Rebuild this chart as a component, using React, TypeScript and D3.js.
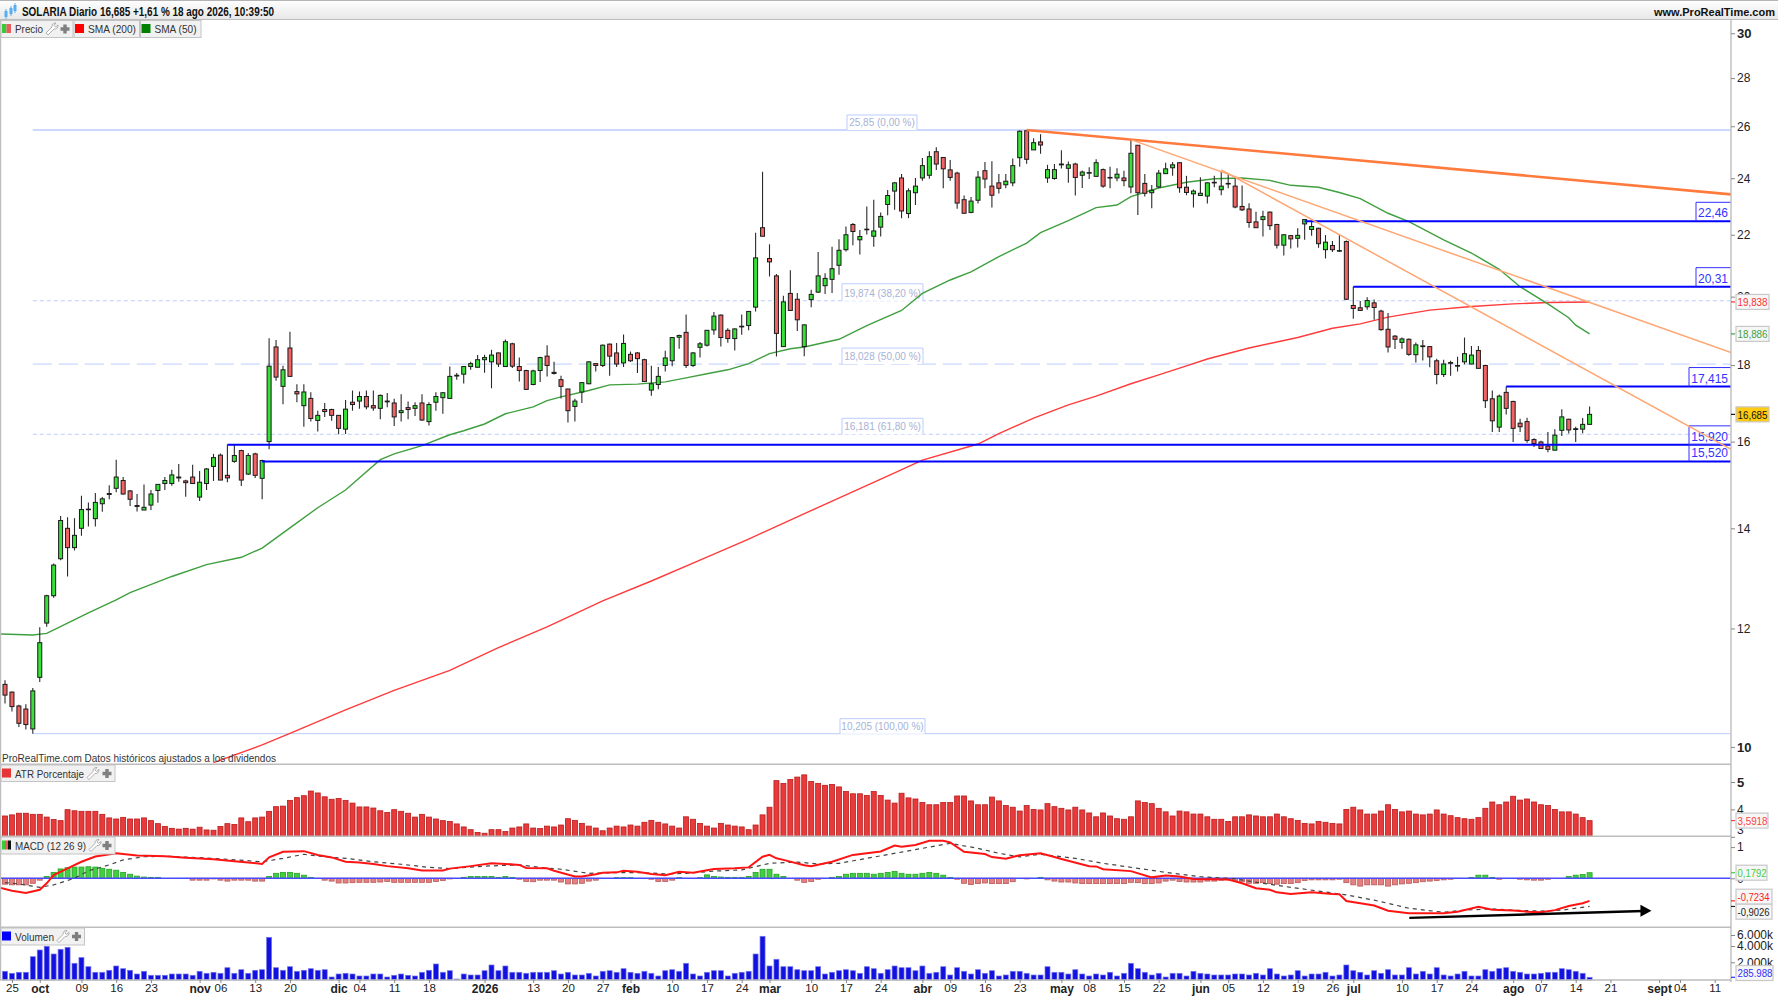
// App.tsx
import React, { useEffect, useRef } from 'react';
import * as d3 from 'd3';

// Daily candles, one row = 10 sessions
const opens = [
  11.01,10.88,10.65,10.60,10.28,11.13,12.10,12.62,13.36,14.00,
  13.59,14.00,14.41,14.21,14.54,14.75,14.89,15.07,14.83,14.50,
  14.40,14.51,14.84,15.00,15.00,15.13,15.06,15.15,14.69,15.00,
  15.40,15.67,15.19,15.52,15.78,15.22,15.70,15.12,16.00,18.51,
  17.42,18.48,17.28,16.91,17.10,16.53,16.81,16.81,16.66,16.31,
  17.00,17.03,17.15,16.91,16.84,17.01,16.98,16.73,16.86,16.84,
  16.98,16.50,17.00,17.12,17.10,17.70,17.75,17.96,17.94,18.15,
  18.09,18.34,17.96,18.60,17.96,17.85,17.47,17.85,18.25,17.80,
  17.60,17.35,16.89,17.27,17.49,18.04,17.99,18.59,18.34,18.06,
  18.30,18.34,18.15,17.32,17.47,17.99,18.12,18.79,18.93,17.99,
  18.50,18.56,19.00,19.44,18.99,18.75,19.09,19.13,19.68,22.24,
  21.21,20.65,18.52,20.10,19.92,18.52,19.91,20.14,20.34,20.54,
  20.99,21.50,22.35,21.83,22.17,21.95,22.26,23.05,23.53,24.01,
  22.73,23.47,24.01,24.11,25.00,24.78,24.31,24.19,23.22,22.77,
  23.20,24.28,23.71,23.83,23.76,23.83,24.77,25.82,25.07,25.38,
  24.01,23.99,24.50,24.37,24.53,24.11,24.19,24.07,24.32,24.01,
  24.01,24.01,23.68,25.25,23.81,23.47,23.68,24.17,24.39,24.58,
  23.67,23.43,23.37,23.35,23.83,23.58,23.79,23.71,22.98,22.89,
  22.44,22.52,22.78,22.35,21.65,21.97,21.88,22.37,22.18,22.22,
  21.50,21.64,21.45,21.77,19.73,19.66,19.69,19.81,19.56,19.02,
  18.82,18.64,18.73,18.29,18.52,18.52,18.12,17.74,18.05,17.97,
  18.09,18.03,18.41,17.99,17.09,16.36,17.26,17.02,16.46,16.50,
  16.05,15.99,15.89,15.79,16.28,16.56,16.30,16.31,16.43,
];
const closes = [
  10.83,10.64,10.37,10.35,10.90,11.74,12.62,13.23,14.17,13.59,
  13.85,14.41,14.42,14.57,14.65,14.77,15.15,14.76,14.64,14.48,
  14.46,14.76,14.98,15.07,15.20,15.15,15.02,15.00,15.03,15.34,
  15.61,15.08,15.13,15.66,15.08,15.66,15.19,15.54,17.97,17.67,
  17.87,17.69,17.22,17.27,16.58,16.66,16.76,16.66,16.33,16.82,
  16.94,17.15,16.88,16.85,17.18,17.03,16.62,16.78,16.81,16.91,
  16.54,16.94,17.15,17.25,17.69,17.72,17.96,18.04,18.15,18.21,
  18.28,18.03,18.66,17.97,17.85,17.34,17.84,18.21,17.99,17.77,
  17.42,16.78,17.03,17.52,18.09,17.99,18.56,18.25,18.03,18.61,
  18.12,18.18,17.55,17.49,17.69,18.20,18.78,18.84,17.99,18.34,
  18.60,18.99,19.41,18.78,18.75,19.03,19.11,19.55,21.23,21.95,
  21.10,18.90,19.84,19.58,19.30,19.15,20.07,20.65,20.57,20.88,
  21.48,22.00,22.11,21.94,22.19,22.13,22.63,23.37,23.83,22.82,
  23.54,23.71,24.47,24.81,24.53,24.35,24.03,23.10,22.74,23.17,
  24.04,23.97,23.38,23.63,23.89,24.47,25.80,24.71,25.35,25.26,
  24.32,24.32,24.53,24.50,24.03,24.23,24.21,24.58,23.71,24.03,
  24.15,23.91,24.94,23.47,23.45,23.56,24.19,24.35,24.50,23.65,
  23.48,23.53,23.45,23.83,23.85,23.71,23.81,22.96,22.86,22.42,
  22.24,22.62,22.31,21.65,22.00,21.86,21.98,22.52,22.28,21.70,
  21.75,21.50,21.47,19.92,19.64,19.58,19.88,19.67,19.01,18.51,
  18.73,18.74,18.30,18.57,18.54,18.23,17.74,18.03,18.07,17.99,
  18.32,18.28,17.91,17.04,16.52,17.16,16.84,16.33,16.37,16.03,
  15.95,15.83,15.81,16.16,16.62,16.29,16.32,16.43,16.685,
];
const highs = [
  11.08,10.89,10.67,10.68,10.95,12.02,12.64,13.26,14.27,14.24,
  14.22,14.72,14.57,14.78,14.69,14.96,15.56,15.15,14.85,14.76,
  14.98,14.85,14.99,15.15,15.32,15.46,15.09,15.44,15.29,15.36,
  15.70,15.71,15.92,15.92,15.80,15.72,15.73,15.56,18.76,18.71,
  17.98,18.95,17.48,17.48,17.26,16.78,16.98,16.83,16.67,17.06,
  17.31,17.28,17.31,17.31,17.20,17.24,17.09,17.21,17.02,17.00,
  17.21,17.00,17.26,17.26,17.96,17.78,17.97,18.09,18.28,18.29,
  18.43,18.35,18.72,18.63,18.21,17.87,17.87,18.23,18.56,18.09,
  17.71,17.35,17.09,17.54,18.11,18.06,18.58,18.61,18.62,18.87,
  18.38,18.37,18.18,17.98,17.95,18.40,18.79,18.86,19.46,18.37,
  18.65,19.00,19.53,19.46,19.05,19.05,19.46,19.56,22.07,24.24,
  21.68,20.71,20.03,20.83,20.11,19.16,20.21,21.42,20.73,21.60,
  21.85,22.28,22.40,22.16,22.98,23.22,22.77,23.57,23.86,24.16,
  23.63,24.01,24.76,25.02,25.17,24.80,24.68,24.24,23.37,23.32,
  24.27,24.61,24.64,24.16,24.16,24.74,25.83,25.85,25.52,25.68,
  24.50,24.53,25.06,24.63,24.58,24.29,24.41,24.71,24.36,24.43,
  24.37,24.28,25.48,25.25,24.16,23.75,24.31,24.58,24.61,24.61,
  24.09,23.59,24.04,23.85,24.09,24.24,24.19,24.04,23.73,23.09,
  22.79,22.83,22.80,22.38,22.02,21.99,22.22,22.50,22.50,22.24,
  21.99,21.79,21.99,21.81,20.31,19.87,19.98,19.91,19.60,19.50,
  18.85,18.78,18.75,18.64,18.71,18.54,18.18,18.15,18.12,18.23,
  18.78,18.54,18.54,18.01,17.31,17.20,17.415,17.04,16.57,16.60,
  16.08,16.02,16.24,16.31,16.82,16.57,16.37,16.59,16.89,
];
const lows = [
  10.69,10.56,10.31,10.27,10.205,11.05,12.03,12.58,13.33,13.00,
  13.53,13.84,14.04,14.04,14.36,14.64,14.80,14.74,14.49,14.37,
  14.40,14.40,14.56,14.85,14.95,15.04,14.70,15.00,14.60,14.85,
  15.06,15.08,15.03,15.49,14.94,15.20,15.13,14.64,15.81,17.57,
  16.95,17.69,17.00,16.37,16.50,16.25,16.62,16.52,16.18,16.19,
  16.78,16.83,16.82,16.78,16.56,16.87,16.39,16.50,16.56,16.64,
  16.52,16.40,16.78,16.70,17.10,17.60,17.50,17.87,17.93,17.79,
  17.37,17.95,17.95,17.92,17.55,17.32,17.45,17.54,17.69,17.74,
  17.10,16.48,16.50,16.98,17.48,17.82,17.95,17.71,17.95,17.95,
  18.09,17.78,17.54,17.17,17.34,17.82,17.97,18.46,17.92,17.95,
  18.21,18.52,18.86,18.52,18.63,18.41,18.86,18.99,19.55,21.95,
  20.63,18.24,18.52,19.58,18.97,18.25,19.68,20.12,20.08,20.11,
  20.69,21.44,21.65,21.34,22.01,21.60,21.94,22.67,22.86,22.57,
  22.57,23.03,23.91,23.98,24.31,23.63,23.91,22.90,22.72,22.74,
  23.08,23.63,22.94,23.44,23.63,23.71,24.43,24.54,25.07,24.92,
  23.83,23.94,24.36,23.83,23.37,23.64,23.97,24.05,23.65,23.63,
  23.89,23.71,23.45,22.68,23.33,22.92,23.64,24.16,24.09,23.47,
  23.38,22.94,23.35,23.08,23.67,23.38,23.63,22.92,22.82,22.24,
  22.24,21.94,22.16,21.54,21.31,21.54,21.57,21.83,21.97,21.56,
  21.21,21.42,21.42,19.90,19.33,19.56,19.60,19.30,18.98,18.35,
  18.45,18.46,18.26,18.07,18.13,17.94,17.48,17.67,17.71,17.82,
  18.02,18.02,17.91,16.85,16.24,16.24,16.68,15.99,16.24,15.97,
  15.87,15.82,15.74,15.79,16.14,16.20,15.99,16.21,16.42,
];

const atrValues = [
  3.76,3.80,3.86,3.86,3.82,3.82,3.72,3.63,3.59,3.99,
  3.95,3.93,3.93,3.93,3.82,3.69,3.65,3.71,3.65,3.65,
  3.69,3.59,3.48,3.38,3.31,3.28,3.31,3.28,3.35,3.25,
  3.24,3.38,3.48,3.45,3.69,3.55,3.69,3.72,3.93,4.10,
  4.12,4.33,4.43,4.50,4.67,4.60,4.46,4.37,4.40,4.33,
  4.23,4.09,4.09,4.05,3.95,3.89,3.99,3.93,3.86,3.72,
  3.82,3.72,3.65,3.59,3.56,3.47,3.36,3.26,3.16,3.13,
  3.26,3.26,3.19,3.32,3.36,3.47,3.32,3.30,3.39,3.36,
  3.43,3.66,3.60,3.49,3.39,3.32,3.22,3.32,3.39,3.36,
  3.43,3.39,3.53,3.60,3.53,3.47,3.39,3.32,3.73,3.64,
  3.49,3.39,3.32,3.49,3.43,3.39,3.36,3.26,3.43,3.80,
  4.08,5.05,4.95,5.09,5.18,5.26,5.02,4.95,4.88,4.91,
  4.82,4.65,4.57,4.57,4.51,4.65,4.51,4.34,4.23,4.59,
  4.42,4.38,4.25,4.17,4.17,4.25,4.25,4.49,4.49,4.31,
  4.17,4.17,4.45,4.31,4.14,4.08,3.94,4.14,4.00,3.98,
  4.21,4.10,4.04,3.98,4.08,3.98,3.87,3.73,3.87,3.76,
  3.66,3.64,3.73,4.31,4.25,4.21,4.04,3.91,3.76,3.94,
  3.91,3.83,3.83,3.73,3.64,3.64,3.56,3.73,3.73,3.80,
  3.76,3.73,3.73,3.83,3.73,3.66,3.60,3.49,3.47,3.56,
  3.53,3.49,3.47,4.00,4.08,3.98,3.83,3.83,3.94,4.17,
  4.00,3.91,3.94,3.83,3.80,3.83,3.98,3.83,3.77,3.70,
  3.66,3.64,3.70,4.04,4.27,4.17,4.27,4.48,4.34,4.38,
  4.27,4.17,4.14,4.00,3.91,3.91,3.83,3.70,3.59,
];

const histValues = [
  -.19,-.21,-.21,-.21,-.16,-.06,.06,.19,.30,.34,
  .36,.36,.37,.36,.32,.29,.26,.19,.13,.07,
  .04,.03,.03,0,0,0,-.01,-.06,-.06,-.06,
  -.02,-.06,-.09,-.06,-.06,-.06,-.09,-.09,.06,.16,
  .19,.19,.16,.10,.03,-.01,-.06,-.09,-.15,-.15,
  -.14,-.13,-.13,-.13,-.12,-.10,-.13,-.13,-.13,-.13,
  -.13,-.13,-.10,-.07,-.02,0,.03,.06,.06,.06,
  .06,.03,.06,.03,-.03,-.10,-.11,-.06,-.06,-.06,
  -.12,-.18,-.18,-.16,-.09,-.06,0,0,.02,.02,
  .02,0,0,-.03,-.10,-.10,-.06,.02,0,0,
  .02,.11,.06,.04,.03,.03,.03,.06,.19,.29,
  .29,.13,.06,0,-.06,-.13,-.10,-.03,0,.03,
  .06,.13,.16,.16,.16,.13,.16,.19,.22,.16,
  .13,.13,.16,.19,.16,.10,.03,-.03,-.16,-.20,
  -.17,-.15,-.17,-.17,-.17,-.11,0,-.02,0,.03,
  -.05,-.09,-.12,-.12,-.15,-.17,-.17,-.17,-.17,-.17,
  -.17,-.17,-.13,-.14,-.17,-.17,-.15,-.09,-.06,-.10,
  -.12,-.12,-.12,-.09,-.09,-.06,-.05,-.07,-.11,-.16,
  -.16,-.14,-.17,-.19,-.17,-.17,-.14,-.07,-.05,-.05,
  -.05,-.05,-.03,-.14,-.21,-.25,-.21,-.21,-.21,-.25,
  -.21,-.18,-.16,-.14,-.11,-.09,-.07,-.05,-.03,-.01,
  0,.03,.10,.10,.03,-.03,0,0,-.03,-.05,
  -.06,-.06,-.03,0,0,.06,.10,.12,.1792,
];

// volume in thousands
const volumes = [
  972,743,858,858,2687,3509,3963,3018,3595,3840,
  1886,2576,1498,858,858,1086,1578,1269,1086,663,
  972,515,515,515,663,663,663,515,972,743,
  858,743,1383,743,1155,743,1086,1155,5580,1383,
  1086,1498,972,1086,1269,1086,1155,320,663,743,
  663,435,435,663,663,320,515,663,515,435,
  858,1086,1806,858,1040,106,663,549,549,1040,
  1692,1040,1578,858,858,743,858,858,858,1040,
  663,858,549,549,743,435,972,1040,858,1269,
  858,743,972,743,435,1040,1155,972,1886,663,
  435,858,1040,1040,435,743,858,972,3018,5763,
  1578,2368,1498,1498,1155,1040,1040,1498,663,858,
  1040,1155,1040,743,1498,1269,743,1155,1578,1383,
  1383,1040,1578,743,858,1498,549,1383,972,663,
  1155,743,1040,435,549,972,972,743,549,549,
  1498,858,858,663,1155,663,435,663,549,858,
  435,743,1886,1269,858,549,743,320,743,743,
  435,972,743,663,549,549,549,663,663,549,
  743,549,1269,663,435,549,1040,435,663,663,
  858,435,549,1692,1040,858,549,1040,743,1155,
  549,549,1383,663,972,663,1383,549,435,663,
  972,435,435,1155,972,1269,1383,972,858,663,
  663,743,858,858,1269,1155,972,743,286,
];

// moving averages, read at these sessions
const sma50Bars = [-1,4,6,9,12,16,18,24,29,34,37,41,45,49,54,56,60,64,66,69,72,76,78,80,84,87,91,95,98,101,104,107,110,113,115,120,124,129,132,136,139,143,147,149,153,157,160,162,166,170,174,178,182,185,189,192,195,199,202,207,211,215,218,222,225,226,228];
const sma50Vals = [11.90,11.88,11.91,12.10,12.29,12.54,12.68,13.00,13.24,13.39,13.58,14.01,14.45,14.85,15.56,15.70,15.90,16.17,16.27,16.44,16.70,16.88,17.04,17.14,17.31,17.46,17.48,17.54,17.65,17.76,17.87,18.04,18.32,18.46,18.51,18.73,19.13,19.58,20.10,20.52,20.78,21.27,21.72,22.07,22.48,22.94,23.03,23.33,23.64,23.85,23.98,24.01,23.92,23.74,23.67,23.48,23.26,22.74,22.45,21.83,21.39,20.86,20.31,19.78,19.36,19.14,18.886];
const sma200Bars = [30,37,41,49,56,64,71,78,86,93,100,107,114,121,128,132,140,143,148,153,157,162,166,170,173,179,183,186,191,195,199,205,211,217,222,228];
const sma200Vals = [9.76,10.03,10.21,10.585,10.91,11.25,11.65,12.03,12.52,12.91,13.33,13.77,14.25,14.74,15.25,15.55,15.94,16.20,16.59,16.93,17.16,17.49,17.73,17.98,18.17,18.48,18.65,18.78,19.05,19.18,19.38,19.59,19.70,19.78,19.82,19.838];

const macdBars = [-1,1,3,5,6,7,9,11,13,16,19,23,26,30,33,35,37,38,40,43,45,47,49,51,53,55,58,60,63,64,67,70,72,74,75,78,79,82,83,85,86,88,89,91,93,95,97,99,100,102,105,107,109,110,111,112,115,116,118,119,122,126,128,129,131,133,135,136,138,141,142,144,146,149,151,152,156,157,158,162,165,167,169,171,176,178,180,182,183,185,188,191,192,193,195,197,199,202,207,209,212,214,217,219,221,223,225,227,228];
const macdVals = [-.29,-.40,-.47,-.37,-.16,.106,.32,.53,.70,.80,.73,.71,.66,.61,.55,.51,.46,.67,.85,.87,.75,.67,.53,.51,.46,.39,.32,.25,.25,.31,.39,.48,.46,.43,.33,.32,.24,.06,.06,.13,.18,.19,.24,.21,.14,.10,.21,.18,.22,.30,.32,.35,.69,.75,.64,.59,.42,.39,.48,.53,.75,.86,1.05,1.01,1.07,1.20,1.20,1.15,.85,.78,.68,.63,.74,.80,.68,.62,.39,.38,.29,.23,.03,.09,.06,-.02,-.04,-.16,-.32,-.37,-.45,-.50,-.45,-.50,-.51,-.73,-.80,-.87,-1.04,-1.12,-1.12,-1.07,-.91,-1.01,-1.03,-1.07,-1.09,-1.02,-.89,-.80,-.7234];
const signalBars = [0,2,5,7,10,12,15,17,20,23,28,32,37,40,43,46,49,53,57,61,64,69,74,77,80,84,88,92,95,98,102,106,110,114,117,120,124,129,132,136,140,143,146,149,154,158,163,168,172,177,181,185,189,193,197,202,207,210,214,217,221,224,228];
const signalVals = [-.14,-.18,-.29,-.21,0,.24,.43,.59,.69,.71,.66,.61,.53,.64,.77,.69,.64,.53,.45,.35,.31,.39,.43,.35,.29,.16,.18,.18,.14,.16,.23,.27,.48,.52,.46,.48,.64,.84,.96,1.12,.96,.80,.69,.77,.64,.48,.32,.16,.05,-.02,-.16,-.29,-.41,-.53,-.70,-.96,-1.09,-1.02,-.98,-1.02,-1.05,-1.02,-.9026];

// axes
const priceTicks = [30, 28, 26, 24, 22, 20, 18, 16, 14, 12, 10];
const atrTicks = [5, 4, 3];
const macdTicks = [1, 0];
const volumeTicks = [6000, 4000, 2000];
const dateBars = [1,5,11,16,21,28,31,36,41,48,51,56,61,69,76,81,86,90,96,101,106,110,116,121,126,132,136,141,146,152,156,161,166,172,176,181,186,191,194,201,206,211,217,221,226,231,238,241,246];
const dateLabels = ['25','oct','09','16','23','nov','06','13','20','dic','04','11','18','2026','13','20','27','feb','10','17','24','mar','10','17','24','abr','09','16','23','may','08','15','22','jun','05','12','19','26','jul','10','17','24','ago','07','14','21','sept','04','11'];
const monthLabels = ['oct','nov','dic','2026','feb','mar','abr','may','jun','jul','ago','sept'];

// drawings on the price pane
const fibPrices = [25.85, 19.874, 18.028, 16.181, 10.205];
const fibLabels = ['25,85 (0,00 %)', '19,874 (38,20 %)', '18,028 (50,00 %)', '16,181 (61,80 %)', '10,205 (100,00 %)'];
const levelPrices = [22.46, 20.31, 17.415, 15.92, 15.52];
const levelBars = [187, 194, 216, 32, 37];
const levelLabels = ['22,46', '20,31', '17,415', '15,920', '15,520'];
const RIGHT_BAR = 248.35; // bar index at the price axis
const trendLines = [
  { from: [147, 25.85], to: [RIGHT_BAR, 23.41], width: 2.6, color: '#ff7a3c' },
  { from: [162.1, 25.46], to: [RIGHT_BAR, 18.35], width: 1.5, color: '#ffa672' },
  { from: [175, 24.31], to: [RIGHT_BAR, 15.81], width: 1.5, color: '#ffa672' },
];

const FONT = '"Liberation Sans", Arial, sans-serif';
const AXIS_X = 1731;

const App: React.FC = () => {
  const ref = useRef<SVGSVGElement>(null);

  useEffect(() => {
    document.body.style.margin = '0';
    document.body.style.overflow = 'hidden';

    const svg = d3.select(ref.current);
    svg.selectAll('*').remove();

    const x = d3.scaleLinear().domain([0, 228]).range([5, 1589.6]);
    const y = d3.scaleLog().domain([25.85, 10.205]).range([130, 733.7]);
    const atrY = d3.scaleLinear().domain([5, 4]).range([782, 809.4]);
    const macdY = d3.scaleLinear().domain([0, 1]).range([878.3, 847.1]);
    // ProRealTime squeezes the volume axis, so this one is piecewise
    const volY = d3.scaleLinear().domain([0, 286, 2000, 4000, 6000]).range([980, 977.3, 962.3, 946, 935]);

    svg.append('rect').attr('width', 1778).attr('height', 1000).attr('fill', '#fff');

    const defs = svg.append('defs');
    defs.append('clipPath').attr('id', 'main-clip').append('rect')
      .attr('x', 1).attr('y', 20).attr('width', AXIS_X - 1).attr('height', 744);
    const grad = defs.append('linearGradient').attr('id', 'head').attr('x1', 0).attr('x2', 0).attr('y1', 0).attr('y2', 1);
    grad.append('stop').attr('offset', 0).attr('stop-color', '#ffffff');
    grad.append('stop').attr('offset', 1).attr('stop-color', '#e8e8e8');

    const main = svg.append('g').attr('clip-path', 'url(#main-clip)');

    // fibonacci retracement
    const fibDash = [null, '4 3', '19 7', '4 3', null];
    const fibWidth = [1.5, 1, 1, 1, 1];
    fibPrices.forEach((p, i) => {
      main.append('line')
        .attr('x1', x(4)).attr('x2', AXIS_X).attr('y1', y(p)).attr('y2', y(p))
        .attr('stroke', '#bccdff').attr('stroke-width', fibWidth[i])
        .attr('stroke-dasharray', fibDash[i]);
    });
    const fibBoxW = [70, 81, 81, 81, 85];
    const fibBoxH = [15, 17, 16, 16, 15];
    fibPrices.forEach((p, i) => {
      const cx = i === 0 ? 882 : 882.5;
      const w = fibBoxW[i];
      const h = fibBoxH[i];
      main.append('path')
        .attr('d', `M${cx - w / 2},${y(p)}V${y(p) - h}H${cx + w / 2}V${y(p)}`)
        .attr('fill', '#fff').attr('stroke', '#bccdff').attr('stroke-width', 1);
      main.append('text').attr('x', cx).attr('y', y(p) - 4).attr('text-anchor', 'middle')
        .attr('font-family', FONT).attr('font-size', 10).attr('fill', '#a6b2d6').text(fibLabels[i]);
    });

    const line = d3.line<[number, number]>().x(d => x(d[0])).y(d => y(d[1]));
    main.append('path')
      .attr('d', line(sma200Bars.map((b, i) => [b, sma200Vals[i]] as [number, number])))
      .attr('fill', 'none').attr('stroke', '#ff3b3b').attr('stroke-width', 1.4);
    main.append('path')
      .attr('d', line(sma50Bars.map((b, i) => [b, sma50Vals[i]] as [number, number])))
      .attr('fill', 'none').attr('stroke', '#3f9f3f').attr('stroke-width', 1.4);

    // candles
    const candles = main.append('g').selectAll('g')
      .data(opens.map((o, i) => ({ i, o, c: closes[i], h: highs[i], l: lows[i] })))
      .enter().append('g');
    candles.append('line')
      .attr('x1', d => x(d.i)).attr('x2', d => x(d.i))
      .attr('y1', d => y(d.h)).attr('y2', d => y(d.l))
      .attr('stroke', '#2a2a2a').attr('stroke-width', 1.1);
    candles.append('rect')
      .attr('x', d => x(d.i) - 2)
      .attr('width', 4)
      .attr('y', d => y(Math.max(d.o, d.c)))
      .attr('height', d => Math.max(0.6, Math.abs(y(d.o) - y(d.c))))
      .attr('fill', d => (d.c >= d.o ? '#38e038' : '#f26464'))
      .attr('stroke', '#1a1a1a').attr('stroke-width', 1);

    // horizontal levels
    levelPrices.forEach((p, i) => {
      const h = i === 4 ? 17 : 19;
      const w = levelLabels[i].length === 5 ? 35 : 42;
      main.append('line')
        .attr('x1', x(levelBars[i])).attr('x2', AXIS_X).attr('y1', y(p)).attr('y2', y(p))
        .attr('stroke', '#0000ff').attr('stroke-width', 2);
      main.append('path')
        .attr('d', `M${AXIS_X - w},${y(p)}V${y(p) - h}H${AXIS_X}`)
        .attr('fill', 'none').attr('stroke', '#3030ff').attr('stroke-width', 1);
      main.append('text').attr('x', AXIS_X - 3).attr('y', y(p) - 4).attr('text-anchor', 'end')
        .attr('font-family', FONT).attr('font-size', 12).attr('fill', '#3333ff').text(levelLabels[i]);
    });

    // trend lines
    trendLines.forEach(t => {
      main.append('line')
        .attr('x1', x(t.from[0])).attr('y1', y(t.from[1]))
        .attr('x2', x(t.to[0])).attr('y2', y(t.to[1]))
        .attr('stroke', t.color).attr('stroke-width', t.width);
    });

    // ATR pane
    svg.append('g').selectAll('rect').data(atrValues).enter().append('rect')
      .attr('x', (_, i) => x(i) - 2.5).attr('width', 5)
      .attr('y', d => atrY(d)).attr('height', d => 836.3 - atrY(d))
      .attr('fill', '#e83a3a').attr('stroke', '#b81c1c').attr('stroke-width', 0.8);

    // MACD pane
    svg.append('g').selectAll('rect').data(histValues).enter().append('rect')
      .attr('x', (_, i) => x(i) - 2.5).attr('width', 5)
      .attr('y', d => Math.min(macdY(d), macdY(0)))
      .attr('height', d => Math.abs(macdY(d) - macdY(0)))
      .attr('fill', d => (d >= 0 ? '#44cc44' : '#e48080'))
      .attr('stroke', d => (d >= 0 ? '#22a522' : '#b85858'))
      .attr('stroke-width', d => (d === 0 ? 0 : 0.8));
    svg.append('line').attr('x1', 1).attr('x2', AXIS_X).attr('y1', macdY(0)).attr('y2', macdY(0))
      .attr('stroke', '#4a4aff').attr('stroke-width', 1.4);
    const macdLine = d3.line<[number, number]>().x(d => x(d[0])).y(d => macdY(d[1]));
    const macdClip = defs.append('clipPath').attr('id', 'macd-clip');
    macdClip.append('rect').attr('x', 1).attr('y', 837).attr('width', AXIS_X).attr('height', 90);
    svg.append('path')
      .attr('clip-path', 'url(#macd-clip)')
      .attr('d', macdLine(signalBars.map((b, i) => [b, signalVals[i]] as [number, number])))
      .attr('fill', 'none').attr('stroke', '#444').attr('stroke-width', 1.2).attr('stroke-dasharray', '4 4');
    svg.append('path')
      .attr('clip-path', 'url(#macd-clip)')
      .attr('d', macdLine(macdBars.map((b, i) => [b, macdVals[i]] as [number, number])))
      .attr('fill', 'none').attr('stroke', '#ff1414').attr('stroke-width', 2);

    // arrow drawn on the MACD pane
    const ax1 = x(202.06), ay1 = macdY(-1.27), ax2 = x(236.9), ay2 = macdY(-1.04);
    svg.append('line').attr('x1', ax1).attr('y1', ay1).attr('x2', ax2 - 8).attr('y2', ay2 + 0.3)
      .attr('stroke', '#000').attr('stroke-width', 2.4);
    svg.append('path')
      .attr('d', `M${ax2},${ay2}L${ax2 - 11},${ay2 - 6}V${ay2 + 6}Z`).attr('fill', '#000');

    // Volume pane
    svg.append('g').selectAll('rect').data(volumes).enter().append('rect')
      .attr('x', (_, i) => x(i) - 2.5).attr('width', 5)
      .attr('y', d => volY(d)).attr('height', d => 980 - volY(d))
      .attr('fill', '#1212e0').attr('stroke', '#7474ec').attr('stroke-width', 0.7);

    // frames
    [764.3, 836.3, 927.3, 980].forEach(v => {
      svg.append('line').attr('x1', 0).attr('x2', AXIS_X).attr('y1', v).attr('y2', v)
        .attr('stroke', '#bdbdbd').attr('stroke-width', 1.4);
    });
    svg.append('line').attr('x1', 0.5).attr('x2', 0.5).attr('y1', 19).attr('y2', 980)
      .attr('stroke', '#bdbdbd').attr('stroke-width', 1.4);
    svg.append('line').attr('x1', AXIS_X).attr('x2', AXIS_X).attr('y1', 19).attr('y2', 982)
      .attr('stroke', '#bdbdbd').attr('stroke-width', 1.4);

    // header
    svg.append('rect').attr('x', 0).attr('y', 0).attr('width', 1778).attr('height', 19).attr('fill', 'url(#head)');
    svg.append('line').attr('x1', 0).attr('x2', 1778).attr('y1', 0.5).attr('y2', 0.5).attr('stroke', '#b4b4b4');
    svg.append('line').attr('x1', 0).attr('x2', 1778).attr('y1', 19.5).attr('y2', 19.5).attr('stroke', '#bdbdbd');
    [[6, 11, 6], [11, 8, 6], [15, 5, 6]].forEach(([cx, top, h]) => {
      svg.append('line').attr('x1', cx).attr('x2', cx).attr('y1', top - 2).attr('y2', top + h + 2)
        .attr('stroke', '#59aef0').attr('stroke-width', 1);
      svg.append('rect').attr('x', cx - 1.5).attr('y', top).attr('width', 3).attr('height', h).attr('fill', '#59aef0');
    });
    svg.append('text').attr('x', 22).attr('y', 16).attr('font-family', FONT).attr('font-size', 12)
      .attr('font-weight', 600).attr('fill', '#111').attr('textLength', 252).attr('lengthAdjust', 'spacingAndGlyphs')
      .text('SOLARIA Diario 16,685 +1,61 % 18 ago 2026, 10:39:50');
    svg.append('text').attr('x', 1775).attr('y', 16).attr('text-anchor', 'end').attr('font-family', FONT).attr('font-size', 11)
      .attr('font-weight', 600).attr('fill', '#111')
      .text('www.ProRealTime.com');

    // legend chips
    const wrench = (g: any, wx: number, wy: number) => {
      g.append('path')
        .attr('d', `M${wx},${wy + 10}l6,-6a3.5,3.5 0 0 1 4,-4l-2,2.4 1.6,1.6 2.4,-2a3.5,3.5 0 0 1 -4,4l-6,6z`)
        .attr('fill', '#fff').attr('stroke', '#9a9a9a').attr('stroke-width', 0.8);
    };
    const plus = (g: any, px: number, py: number) => {
      g.append('path')
        .attr('d', `M${px - 1.7},${py - 4.5}h3.4v2.8h2.8v3.4h-2.8v2.8h-3.4v-2.8h-2.8v-3.4h2.8z`)
        .attr('fill', '#7f7f7f');
    };
    const chip = (cx: number, cy: number, w: number, h: number, label: string, colors: string[], textLen: number, tools: boolean) => {
      const g = svg.append('g');
      g.append('rect').attr('x', cx).attr('y', cy).attr('width', w).attr('height', h)
        .attr('fill', '#f1f1f1').attr('stroke', '#c4c4c4').attr('stroke-width', 1);
      const sw = 9 / colors.length;
      colors.forEach((c, i) => {
        g.append('rect').attr('x', cx + 1 + i * sw).attr('y', cy + 3.5).attr('width', sw).attr('height', 9).attr('fill', c);
      });
      g.append('text').attr('x', cx + 14).attr('y', cy + 12.5).attr('font-family', FONT).attr('font-size', 10.5)
        .attr('fill', '#333').attr('textLength', textLen).attr('lengthAdjust', 'spacingAndGlyphs').text(label);
      if (tools) {
        wrench(g, cx + 14 + textLen + 3, cy + 2.5);
        plus(g, cx + w - 8, cy + 8.5);
      }
    };
    chip(1, 20.5, 72, 17, 'Precio', ['#38c838', '#e85c5c'], 28, true);
    chip(74, 20.5, 65.5, 17, 'SMA (200)', ['#ff0000'], 48, false);
    chip(140.5, 20.5, 60.5, 17, 'SMA (50)', ['#008000'], 42, false);
    chip(1, 765, 114, 16.5, 'ATR Porcentaje', ['#e53535'], 69, true);
    chip(1, 837, 114, 17, 'MACD (12 26 9)', ['#38c838', '#e85c5c', '#111'], 71, true);
    chip(1, 928, 83.5, 17, 'Volumen', ['#0000ff'], 39, true);

    svg.append('text').attr('x', 2).attr('y', 762).attr('font-family', FONT).attr('font-size', 10.5)
      .attr('fill', '#333').attr('textLength', 274).attr('lengthAdjust', 'spacingAndGlyphs')
      .text('ProRealTime.com Datos históricos ajustados a los dividendos');

    // axes
    const styleAxis = (g: any, size: number) => {
      g.select('.domain').remove();
      g.selectAll('line').attr('stroke', '#888');
      g.selectAll('text').attr('font-family', FONT).attr('font-size', size).attr('fill', '#222');
    };

    const priceAxis = svg.append('g').attr('transform', `translate(${AXIS_X},0)`)
      .call(d3.axisRight(y).tickValues(priceTicks).tickFormat(d => String(d)).tickSize(4).tickPadding(2) as any);
    styleAxis(priceAxis, 12);
    priceAxis.selectAll('text').filter((d: any) => d === 30 || d === 10)
      .attr('font-size', 13).attr('font-weight', 600);

    const atrAxis = svg.append('g').attr('transform', `translate(${AXIS_X},0)`)
      .call(d3.axisRight(atrY).tickValues(atrTicks).tickFormat(d => String(d)).tickSize(4).tickPadding(2) as any);
    styleAxis(atrAxis, 12);
    atrAxis.selectAll('text').filter((d: any) => d === 5).attr('font-size', 13).attr('font-weight', 600);
    atrAxis.selectAll('text').filter((d: any) => d === 3).attr('dy', '-0.25em');

    const macdAxis = svg.append('g').attr('transform', `translate(${AXIS_X},0)`)
      .call(d3.axisRight(macdY).tickValues(macdTicks).tickFormat(d => String(d)).tickSize(4).tickPadding(2) as any);
    styleAxis(macdAxis, 12);

    const volAxis = svg.append('g').attr('transform', `translate(${AXIS_X},0)`)
      .call(d3.axisRight(volY).tickValues(volumeTicks).tickFormat((d: any) => `${d / 1000}.000k`).tickSize(4).tickPadding(2) as any);
    styleAxis(volAxis, 12);

    const dateAxis = svg.append('g').attr('transform', 'translate(0,980)')
      .call(d3.axisBottom(x).tickValues(dateBars).tickFormat((_, i) => dateLabels[i]).tickSize(3).tickPadding(1) as any);
    styleAxis(dateAxis, 11.5);
    dateAxis.selectAll('text').filter(function () {
      return monthLabels.includes(d3.select(this as any).text());
    }).attr('font-size', 12).attr('font-weight', 700);

    // last value boxes on the right
    const valueBox = (cy: number, label: string, color: string, fill: string, w: number, tickY: number, len: number) => {
      svg.append('line').attr('x1', AXIS_X).attr('x2', AXIS_X + 4).attr('y1', tickY).attr('y2', tickY)
        .attr('stroke', color).attr('stroke-width', 1.2);
      svg.append('rect').attr('x', 1736).attr('y', cy - 7.5).attr('width', w).attr('height', 15)
        .attr('fill', fill).attr('stroke', '#c8c8c8').attr('stroke-width', 1.2);
      svg.append('text').attr('x', 1737.5).attr('y', cy + 4.3).attr('font-family', FONT).attr('font-size', 11)
        .attr('fill', color).attr('textLength', len).attr('lengthAdjust', 'spacingAndGlyphs').text(label);
    };
    valueBox(y(19.838), '19,838', '#ff3030', '#f6f6f6', 33, y(19.838), 30);
    valueBox(y(18.886), '18,886', '#3f9f3f', '#f6f6f6', 33, y(18.886), 30);
    valueBox(y(16.685), '16,685', '#111', '#ffcc11', 33, y(16.685), 30);
    valueBox(atrY(3.5918), '3,5918', '#ff4040', '#f6f6f6', 32, atrY(3.5918), 30);
    valueBox(macdY(0.1792), '0,1792', '#44cc44', '#f6f6f6', 31, macdY(0.1792), 29);
    valueBox(896.7, '-0,7234', '#ff2020', '#f6f6f6', 36, macdY(-0.7234), 32);
    valueBox(911.7, '-0,9026', '#222', '#f6f6f6', 36, macdY(-0.9026), 32);
    valueBox(973, '285.988', '#3030ff', '#f6f6f6', 37, volY(286), 35);
  }, []);

  return <svg ref={ref} width={1778} height={1000} style={{ display: 'block', position: 'absolute', left: 0, top: 0 }} />;
};

export default App;
